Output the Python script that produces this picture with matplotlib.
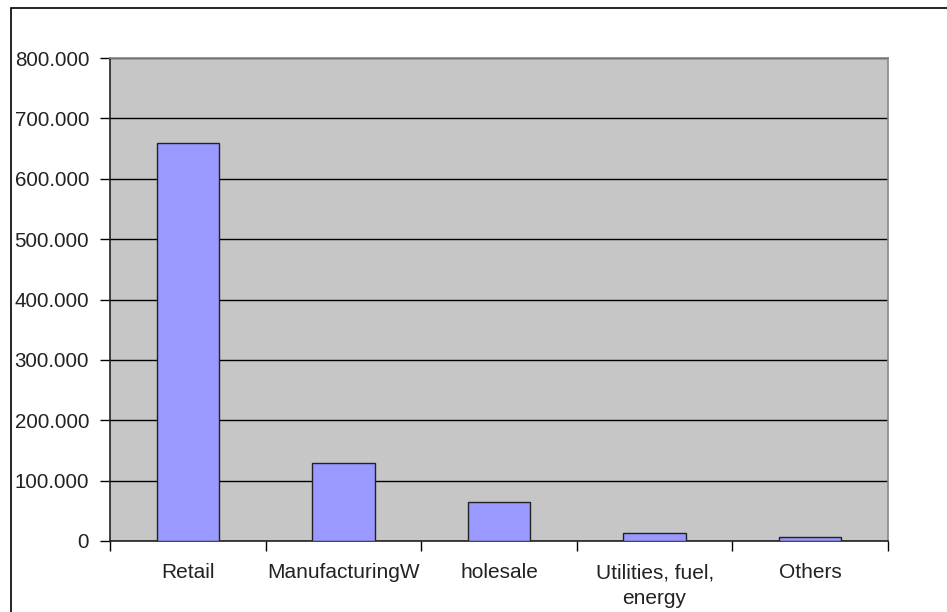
import matplotlib.pyplot as plt
import matplotlib.patches as patches
import numpy as np

categories = ['Retail', 'ManufacturingW', 'holesale', 'Utilities, fuel,\nenergy', 'Others']
values = [660, 130, 65, 14, 7]
yticks = [0, 100, 200, 300, 400, 500, 600, 700, 800]
ytick_labels = ['0', '100.000', '200.000', '300.000', '400.000',
                '500.000', '600.000', '700.000', '800.000']


def main():
    plt.rcParams['font.family'] = ['Liberation Sans', 'DejaVu Sans']
    W, H = 947, 612
    fig = plt.figure(figsize=(W / 100, H / 100), dpi=100)
    ax = fig.add_axes([110 / W, 1 - 541 / H, (888 - 110) / W, (541 - 58) / H])

    # outer chart border
    fig.patches.append(patches.Rectangle((11 / W, -0.1), 2, 1.1 - 8 / H,
                                         transform=fig.transFigure, fill=False,
                                         edgecolor='black', linewidth=1.2))

    x = np.arange(len(categories))
    ax.set_facecolor('#C6C6C6')
    ax.bar(x, values, width=0.4, color='#9999FF', edgecolor='#222222',
           linewidth=1.0, zorder=3)

    ax.set_xlim(-0.5, len(categories) - 0.5)
    ax.set_ylim(0, 800)
    ax.set_yticks(yticks)
    ax.set_yticklabels(ytick_labels, fontsize=14.8, color='#222222')
    ax.yaxis.grid(True, color='black', linewidth=1.0, zorder=1)
    ax.set_axisbelow(True)

    ax.set_xticks(x)
    ax.set_xticklabels(categories, fontsize=15, color='#222222', linespacing=1.45)
    ax.set_xticks(np.arange(len(categories) + 1) - 0.5, minor=True)
    ax.tick_params(axis='x', which='major', length=0, pad=16)
    ax.tick_params(axis='x', which='minor', length=7, width=1.0, direction='out')
    ax.tick_params(axis='y', length=7, width=1.0, direction='out', pad=8)

    for side in ['top', 'right']:
        ax.spines[side].set_color('#888888')
        ax.spines[side].set_linewidth(1.2)
    for side in ['left', 'bottom']:
        ax.spines[side].set_color('#222222')
        ax.spines[side].set_linewidth(1.2)

    fig.savefig('out.png', dpi=100)


if __name__ == '__main__':
    main()
